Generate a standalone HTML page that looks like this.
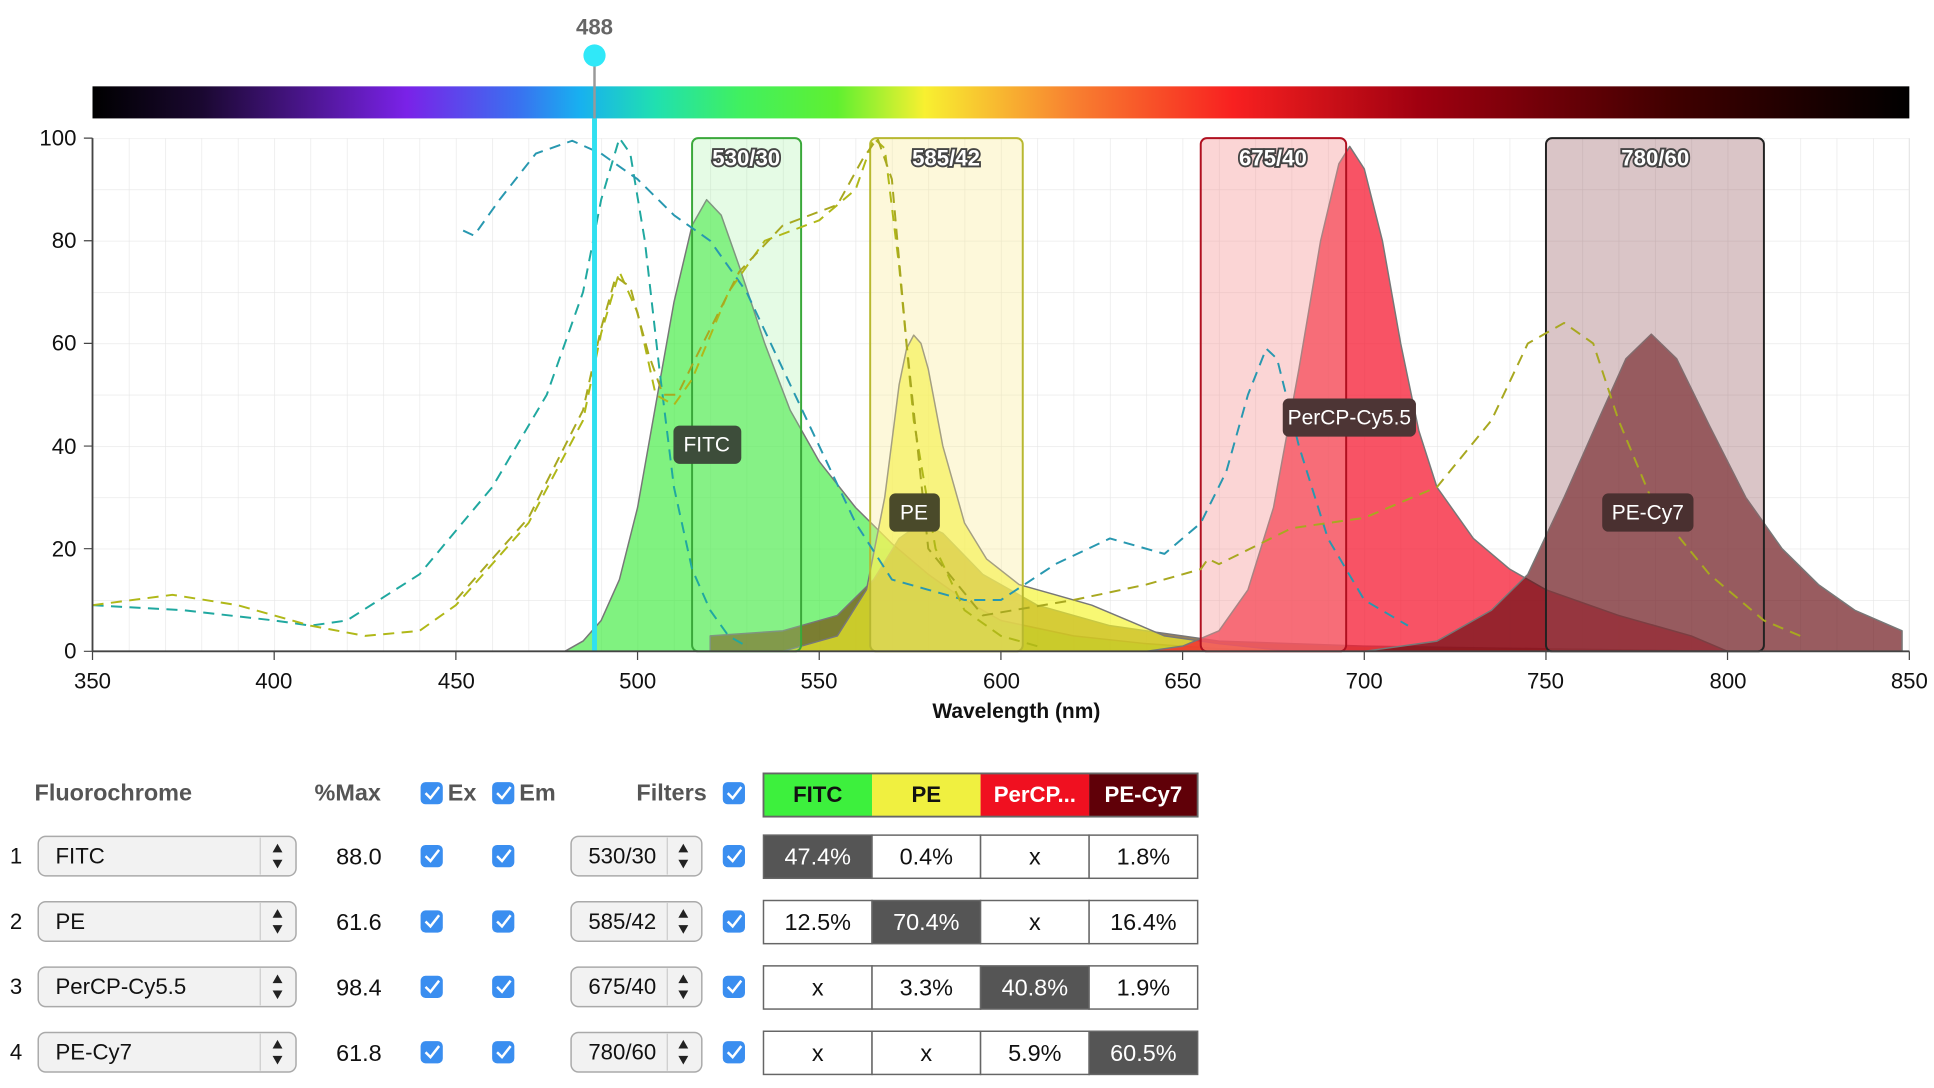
<!DOCTYPE html>
<html><head><meta charset="utf-8"><style>
html,body{margin:0;padding:0;background:#fff;}
svg{display:block;font-family:"Liberation Sans",sans-serif;}
</style></head><body>
<svg width="1934" height="1088" viewBox="0 0 1568 882" preserveAspectRatio="none" xmlns="http://www.w3.org/2000/svg">
<defs>
<linearGradient id="spec" x1="0" x2="1" y1="0" y2="0">
<stop offset="0" stop-color="#000"/>
<stop offset="0.06" stop-color="#1a0830"/>
<stop offset="0.173" stop-color="#7a22e8"/>
<stop offset="0.234" stop-color="#3a70f0"/>
<stop offset="0.268" stop-color="#18b0f0"/>
<stop offset="0.31" stop-color="#20e0b0"/>
<stop offset="0.356" stop-color="#40f060"/>
<stop offset="0.41" stop-color="#60f030"/>
<stop offset="0.458" stop-color="#f8f030"/>
<stop offset="0.54" stop-color="#f88030"/>
<stop offset="0.628" stop-color="#f82020"/>
<stop offset="0.73" stop-color="#a00010"/>
<stop offset="0.87" stop-color="#400000"/>
<stop offset="1" stop-color="#000"/>
</linearGradient>
<pattern id="grid" x="75" y="112" width="29.46" height="41.6" patternUnits="userSpaceOnUse">
<path d="M0,0 V41.6 M0,0 H29.46" stroke="#e6e6e6" stroke-width="1" fill="none"/>
</pattern>
<g id="cbx"><rect x="-9" y="-9" width="18" height="18" rx="4" fill="#3a8ef0"/><path d="M-5,0 l4,4 l7,-9" stroke="#fff" stroke-width="2" fill="none"/></g>
<g id="sel1"><rect x="31" y="-16" width="209" height="32" rx="6" fill="#f2f2f2" stroke="#aaa" stroke-width="1.2"/><line x1="211" y1="-15" x2="211" y2="15" stroke="#ccc"/><path d="M221,-3 l4,-7 l4,7Z M221,3 l4,7 l4,-7Z" fill="#222"/></g>
<g id="sel2"><rect x="463" y="-16" width="106" height="32" rx="6" fill="#f2f2f2" stroke="#aaa" stroke-width="1.2"/><line x1="541" y1="-15" x2="541" y2="15" stroke="#ccc"/><path d="M550,-3 l4,-7 l4,7Z M550,3 l4,7 l4,-7Z" fill="#222"/></g>
</defs>
<rect x="75" y="70" width="1473" height="26" fill="url(#spec)"/>
<rect x="75" y="112" width="1473" height="416" fill="url(#grid)"/>
<line x1="1548" y1="112" x2="1548" y2="528" stroke="#e6e6e6"/>

<g stroke="#777" stroke-width="1.2" stroke-linejoin="round">
<path fill="rgba(60,235,60,0.65)" d="M458,528 L472.7,519.7 L487.4,503 L502.2,469.8 L516.9,411.5 L531.6,328.3 L546.4,245.1 L561.1,182.7 L572.9,161.9 L584.7,174.4 L599.4,216 L620,278.4 L640.6,332.5 L664.2,374.1 L693.7,411.5 L723.1,440.6 L752.6,465.6 L782,486.4 L811.5,503 L870.4,515.5 L929.3,521.8 L988.3,525.9 L1047.2,528 Z"/>
<path fill="rgba(120,80,20,0.72)" d="M575.8,528 L575.8,515.5 L634.7,511.4 L678.9,498.9 L708.4,469.8 L729,436.5 L746.7,424 L764.4,432.3 L796.8,465.6 L841,490.6 L899.9,507.2 L988.3,519.7 L1106.1,523.8 L1253.4,525.9 L1400.6,528 Z"/>
<path fill="rgba(245,245,40,0.65)" d="M634.7,528 L678.9,515.5 L702.5,478.1 L717.3,403.2 L729,311.7 L735,282.6 L740.8,271.7 L746.7,278.4 L752.6,299.2 L764.4,361.6 L782,424 L799.8,453.1 L826.2,473.9 L855.7,482.2 L885.2,490.6 L914.6,503 L944.1,515.5 L988.3,521.8 L1047.2,528 Z"/>
<path fill="rgba(245,25,50,0.75)" d="M929.3,528 L958.8,523.8 L988.3,511.4 L1011.8,478.1 L1032.5,411.5 L1053.1,299.2 L1070.7,195.2 L1085.5,132.8 L1094.3,118.7 L1106.1,136.9 L1120.8,195.2 L1135.6,278.4 L1150.3,349.1 L1165,394.9 L1194.5,436.5 L1224,461.4 L1253.4,478.1 L1312.3,498.9 L1371.2,515.5 L1400.6,528 Z"/>
<path fill="rgba(105,15,20,0.68)" d="M1106.1,528 L1165,519.7 L1209.2,494.7 L1238.7,465.6 L1268.1,403.2 L1297.6,336.6 L1318.2,290.9 L1338.8,270.9 L1359.4,290.9 L1385.9,345 L1415.4,403.2 L1444.8,444.8 L1474.3,473.9 L1503.8,494.7 L1542.1,511.4 L1542.1,528 Z"/>
</g>

<g stroke-width="1.6">
<rect x="561.1" y="112" width="88.4" height="416" rx="5" fill="rgba(150,240,150,0.25)" stroke="#3aa83a"/>
<rect x="705.5" y="112" width="123.7" height="416" rx="5" fill="rgba(250,235,150,0.35)" stroke="#b8b830"/>
<rect x="973.5" y="112" width="117.9" height="416" rx="5" fill="rgba(245,150,150,0.4)" stroke="#b01020"/>
<rect x="1253.4" y="112" width="176.7" height="416" rx="5" fill="rgba(150,90,95,0.35)" stroke="#222"/>
</g>

<g fill="none" stroke-width="1.6" stroke-dasharray="9,6" stroke-linejoin="round">
<path stroke="#20a8a0" d="M75,490.6 L148.7,494.7 L222.3,503 L251.8,507.2 L281.2,503 L340.1,465.6 L399.1,394.9 L443.3,320 L472.7,236.8 L487.4,161.9 L502.2,112 L511,124.5 L522.8,195.2 L534.6,299.2 L546.4,394.9 L561.1,461.4 L575.8,494.7 L590.6,515.5 L605.3,523.8"/>
<path stroke="#2898b0" d="M375.5,186.9 L384.3,191 L405,161.9 L434.4,124.5 L463.9,114.1 L487.4,124.5 L516.9,145.3 L546.4,174.4 L575.8,195.2 L605.3,236.8 L634.7,299.2 L664.2,361.6 L693.7,424 L723.1,469.8 L752.6,478.1 L782,486.4 L811.5,486.4 L855.7,457.3 L899.9,436.5 L944.1,449 L973.5,424 L994.2,382.4 L1011.8,320 L1026.6,282.6 L1035.4,290.9 L1053.1,361.6 L1076.6,436.5 L1106.1,486.4 L1141.5,507.2"/>
<path stroke="#b0b818" d="M75,490.6 L139.8,482.2 L192.8,490.6 L251.8,507.2 L296,515.5 L340.1,511.4 L369.6,490.6 L428.5,424 L472.7,340.8 L487.4,270.1 L502.2,220.2 L516.9,253.4 L531.6,320 L546.4,328.3 L561.1,307.5 L590.6,236.8 L620,195.2 L664.2,178.6 L693.7,153.6 L708.4,112 L717.3,120.3 L729,216 L740.8,340.8 L758.5,444.8 L782,494.7 L811.5,515.5 L841,523.8"/>
<path stroke="#a8a820" d="M369.6,486.4 L428.5,419.8 L472.7,332.5 L487.4,265.9 L499.2,224.3 L511,232.6 L525.7,286.7 L537.5,320 L549.3,320 L569.9,278.4 L599.4,220.2 L634.7,182.7 L678.9,166.1 L699.6,128.6 L711.4,112 L723.1,145.3 L735,278.4 L752.6,444.8 L796.8,498.9 L870.4,486.4 L929.3,473.9 L973.5,461.4 L979.4,453.1 L988.3,457.3 L1047.2,428.2 L1106.1,419.8 L1165,394.9 L1209.2,340.8 L1238.7,278.4 L1268.1,261.8 L1291.7,278.4 L1312.3,340.8 L1341.8,411.5 L1385.9,465.6 L1430.1,503 L1459.6,515.5"/>
</g>

<line x1="482" y1="45" x2="482" y2="528" stroke="#999" stroke-width="2"/>
<rect x="480" y="96" width="4" height="432" fill="#30e0f0"/>
<circle cx="482" cy="45" r="9" fill="#30e8f8"/>
<text x="482" y="28" text-anchor="middle" font-size="18" font-weight="bold" fill="#666">488</text>

<line x1="75" y1="112" x2="75" y2="528" stroke="#444" stroke-width="1.5"/>
<line x1="75" y1="528" x2="1548" y2="528" stroke="#444" stroke-width="1.5"/>
<g stroke="#444">
<path d="M75,528v7 M222.3,528v7 M369.6,528v7 M516.9,528v7 M664.2,528v7 M811.5,528v7 M958.8,528v7 M1106.1,528v7 M1253.4,528v7 M1400.6,528v7 M1548,528v7"/>
<path d="M68,112h7 M68,195.2h7 M68,278.4h7 M68,361.6h7 M68,444.8h7 M68,528h7"/>
</g>
<g font-size="18" fill="#111" text-anchor="end">
<text x="62" y="118">100</text><text x="62" y="201">80</text><text x="62" y="284">60</text><text x="62" y="368">40</text><text x="62" y="451">20</text><text x="62" y="534">0</text>
</g>
<g font-size="18" fill="#111" text-anchor="middle">
<text x="75" y="558">350</text><text x="222" y="558">400</text><text x="370" y="558">450</text><text x="517" y="558">500</text><text x="664" y="558">550</text><text x="812" y="558">600</text><text x="959" y="558">650</text><text x="1106" y="558">700</text><text x="1253" y="558">750</text><text x="1401" y="558">800</text><text x="1548" y="558">850</text>
<text x="824" y="582" font-weight="bold" font-size="17">Wavelength (nm)</text>
</g>
<g font-size="18" font-weight="bold" fill="#fff" stroke="#444" stroke-width="3" paint-order="stroke" text-anchor="middle">
<text x="605" y="134">530/30</text><text x="767" y="134">585/42</text><text x="1032" y="134">675/40</text><text x="1342" y="134">780/60</text>
</g>
<g font-size="17" fill="#fff" text-anchor="middle">
<rect x="546" y="345" width="55" height="31" rx="5" fill="#3d4d3a"/><text x="573" y="366">FITC</text>
<rect x="721" y="400" width="41" height="31" rx="5" fill="#4a4a2a"/><text x="741" y="421">PE</text>
<rect x="1040" y="323" width="108" height="31" rx="5" fill="#4d3535"/><text x="1094" y="344">PerCP-Cy5.5</text>
<rect x="1299" y="400" width="74" height="31" rx="5" fill="#4a3030"/><text x="1336" y="421">PE-Cy7</text>
</g>

<g font-size="19" fill="#555" font-weight="bold">
<text x="28" y="649">Fluorochrome</text><text x="255" y="649">%Max</text><text x="363" y="649">Ex</text><text x="421" y="649">Em</text><text x="516" y="649">Filters</text>
</g>
<use href="#cbx" x="350" y="643"/><use href="#cbx" x="408" y="643"/><use href="#cbx" x="595" y="643"/>
<use href="#cbx" x="350" y="694"/><use href="#cbx" x="408" y="694"/><use href="#cbx" x="595" y="694"/>
<use href="#cbx" x="350" y="747"/><use href="#cbx" x="408" y="747"/><use href="#cbx" x="595" y="747"/>
<use href="#cbx" x="350" y="800"/><use href="#cbx" x="408" y="800"/><use href="#cbx" x="595" y="800"/>
<use href="#cbx" x="350" y="853"/><use href="#cbx" x="408" y="853"/><use href="#cbx" x="595" y="853"/>
<use href="#sel1" x="0" y="694"/><use href="#sel1" x="0" y="747"/><use href="#sel1" x="0" y="800"/><use href="#sel1" x="0" y="853"/>
<use href="#sel2" x="0" y="694"/><use href="#sel2" x="0" y="747"/><use href="#sel2" x="0" y="800"/><use href="#sel2" x="0" y="853"/>
<g font-size="18" fill="#111">
<text x="8" y="700">1</text><text x="8" y="753">2</text><text x="8" y="806">3</text><text x="8" y="859">4</text>
<text x="45" y="700">FITC</text><text x="45" y="753">PE</text><text x="45" y="806">PerCP-Cy5.5</text><text x="45" y="859">PE-Cy7</text>
<text x="477" y="700">530/30</text><text x="477" y="753">585/42</text><text x="477" y="806">675/40</text><text x="477" y="859">780/60</text>
</g>
<g font-size="19" fill="#111" text-anchor="middle">
<text x="291" y="701">88.0</text><text x="291" y="754">61.6</text><text x="291" y="807">98.4</text><text x="291" y="860">61.8</text>
</g>

<rect x="619" y="627" width="88" height="35" fill="#3df03d"/>
<rect x="707" y="627" width="88" height="35" fill="#f0f040"/>
<rect x="795" y="627" width="88" height="35" fill="#f01020"/>
<rect x="883" y="627" width="88" height="35" fill="#600008"/>
<rect x="619" y="627" width="352" height="35" fill="none" stroke="#666" stroke-width="1.5"/>
<g font-size="18" font-weight="bold" text-anchor="middle">
<text x="663" y="650" fill="#111">FITC</text><text x="751" y="650" fill="#111">PE</text><text x="839" y="650" fill="#fff">PerCP...</text><text x="927" y="650" fill="#fff">PE-Cy7</text>
</g>
<g stroke="#666" stroke-width="1.2">
<rect x="619" y="677" width="88" height="35" fill="#555"/><rect x="707" y="677" width="88" height="35" fill="#fff"/><rect x="795" y="677" width="88" height="35" fill="#fff"/><rect x="883" y="677" width="88" height="35" fill="#fff"/>
<rect x="619" y="730" width="88" height="35" fill="#fff"/><rect x="707" y="730" width="88" height="35" fill="#555"/><rect x="795" y="730" width="88" height="35" fill="#fff"/><rect x="883" y="730" width="88" height="35" fill="#fff"/>
<rect x="619" y="783" width="88" height="35" fill="#fff"/><rect x="707" y="783" width="88" height="35" fill="#fff"/><rect x="795" y="783" width="88" height="35" fill="#555"/><rect x="883" y="783" width="88" height="35" fill="#fff"/>
<rect x="619" y="836" width="88" height="35" fill="#fff"/><rect x="707" y="836" width="88" height="35" fill="#fff"/><rect x="795" y="836" width="88" height="35" fill="#fff"/><rect x="883" y="836" width="88" height="35" fill="#555"/>
</g>
<g font-size="19" text-anchor="middle" fill="#111">
<text x="663" y="701" fill="#fff">47.4%</text><text x="751" y="701">0.4%</text><text x="839" y="701">x</text><text x="927" y="701">1.8%</text>
<text x="663" y="754">12.5%</text><text x="751" y="754" fill="#fff">70.4%</text><text x="839" y="754">x</text><text x="927" y="754">16.4%</text>
<text x="663" y="807">x</text><text x="751" y="807">3.3%</text><text x="839" y="807" fill="#fff">40.8%</text><text x="927" y="807">1.9%</text>
<text x="663" y="860">x</text><text x="751" y="860">x</text><text x="839" y="860">5.9%</text><text x="927" y="860" fill="#fff">60.5%</text>
</g>
</svg>
</body></html>
